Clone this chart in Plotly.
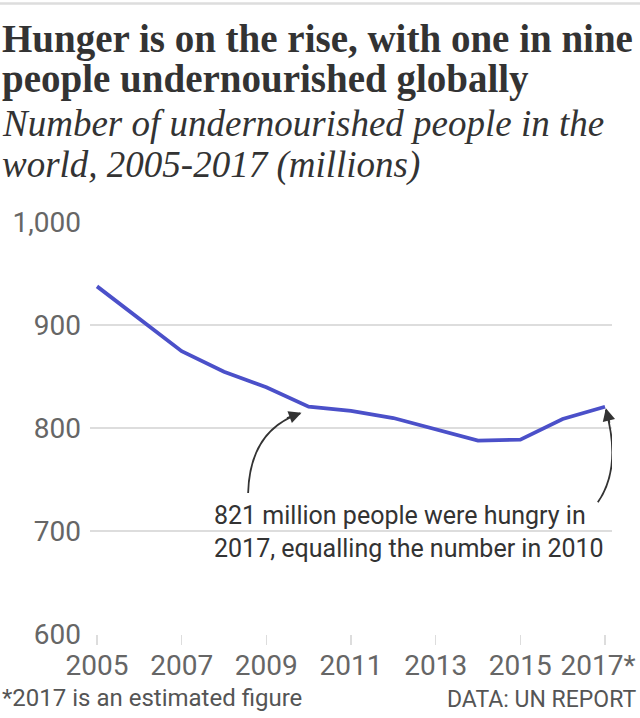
import plotly.graph_objects as go

# ---- data ----
years = [2005, 2006, 2007, 2008, 2009, 2010, 2011, 2012, 2013, 2014, 2015, 2016, 2017]
undernourished = [938, 907, 875, 855, 840, 821, 817, 810, 799, 788, 789, 809, 821]
x_tick_vals = [2005, 2007, 2009, 2011, 2013, 2015, 2017]
x_tick_text = ["2005", "2007", "2009", "2011", "2013", "2015", "2017*\u00a0\u00a0"]
y_tick_vals = [600, 700, 800, 900, 1000]
y_tick_text = ["600", "700", "800", "900", "1,000"]

W, H = 640, 718
L, R, T, B = 90, 28, 222, 84
PW, PH = W - L - R, H - T - B

def px_x(p):  # pixel x -> paper x
    return (p - L) / PW

def px_y(p):  # pixel y -> paper y
    return 1 - (p - T) / PH

SANS = "Roboto, 'Liberation Sans Narrow', sans-serif"
SERIF = "'Liberation Serif', 'DejaVu Serif', serif"

fig = go.Figure()
fig.add_trace(go.Scatter(
    x=years, y=undernourished, mode="lines",
    line=dict(color="#4b50c9", width=3.8),
    hoverinfo="skip", showlegend=False,
))

# curved annotation arrows (data coordinates, relative to the 2010 and 2017 points)
x10, y10 = years[5], undernourished[5]
x17, y17 = years[12], undernourished[12]
a1_start = (x10 - 1.43, y10 - 84)
a1_ctrl = (x10 - 1.39, y10 - 23)
a1_end = (x10 - 0.2, y10 - 6.5)
a2_start = (x17 - 0.17, y17 - 93)
a2_ctrl = (x17 + 0.4, y17 - 59)
a2_end = (x17 + 0.02, y17 - 3)

def qpath(s, c, e):
    return f"M {s[0]},{s[1]} Q {c[0]},{c[1]} {e[0]},{e[1]}"

for s, c, e in [(a1_start, a1_ctrl, a1_end), (a2_start, a2_ctrl, a2_end)]:
    fig.add_shape(type="path", xref="x", yref="y", path=qpath(s, c, e),
                  line=dict(color="#333333", width=1.8))

fig.add_annotation(x=a1_end[0] + 0.03, y=a1_end[1] + 0.6, xref="x", yref="y",
                   ax=-16, ay=6, showarrow=True, arrowhead=2, arrowsize=1.4,
                   arrowwidth=1.8, arrowcolor="#333333", text="", standoff=0)
fig.add_annotation(x=a2_end[0], y=a2_end[1] + 1.5, xref="x", yref="y",
                   ax=4, ay=16, showarrow=True, arrowhead=2, arrowsize=1.4,
                   arrowwidth=1.8, arrowcolor="#333333", text="", standoff=0)

# annotation text
fig.add_annotation(x=px_x(212), y=px_y(532), xref="paper", yref="paper",
                   xanchor="left", yanchor="middle", align="left", showarrow=False,
                   text="821 million people were hungry in<br>2017, equalling the number in 2010",
                   font=dict(family=SANS, size=25, color="#333333"))

# titles
fig.add_annotation(x=px_x(0), y=px_y(39), xref="paper", yref="paper",
                   xanchor="left", yanchor="middle", showarrow=False,
                   text="<b>Hunger is on the rise, with one in nine</b>",
                   font=dict(family=SERIF, size=39, color="#333333"))
fig.add_annotation(x=px_x(0), y=px_y(79), xref="paper", yref="paper",
                   xanchor="left", yanchor="middle", showarrow=False,
                   text="<b>people undernourished globally</b>",
                   font=dict(family=SERIF, size=39, color="#333333"))
fig.add_annotation(x=px_x(0), y=px_y(124), xref="paper", yref="paper",
                   xanchor="left", yanchor="middle", showarrow=False,
                   text="<i>Number of undernourished people in the</i>",
                   font=dict(family=SERIF, size=37, color="#333333"))
fig.add_annotation(x=px_x(0), y=px_y(165), xref="paper", yref="paper",
                   xanchor="left", yanchor="middle", showarrow=False,
                   text="<i>world, 2005-2017 (millions)</i>",
                   font=dict(family=SERIF, size=37, color="#333333"))

# footer
fig.add_annotation(x=px_x(0), y=px_y(698), xref="paper", yref="paper",
                   xanchor="left", yanchor="middle", showarrow=False,
                   text="*2017 is an estimated figure",
                   font=dict(family=SANS, size=24, color="#555555"))
fig.add_annotation(x=px_x(638), y=px_y(699), xref="paper", yref="paper",
                   xanchor="right", yanchor="middle", showarrow=False,
                   text="DATA: UN REPORT",
                   font=dict(family=SANS, size=23, color="#555555"))

# top rule
fig.add_shape(type="line", xref="paper", yref="paper", x0=px_x(0), x1=px_x(W),
              y0=px_y(3.5), y1=px_y(3.5), line=dict(color="#dddddd", width=2.5))

fig.update_layout(
    template="none",
    width=W, height=H, autosize=False,
    margin=dict(l=L, r=R, t=T, b=B, pad=0, autoexpand=False),
    paper_bgcolor="white", plot_bgcolor="white",
    hovermode=False, showlegend=False,
    xaxis=dict(
        automargin=False,
        range=[2004.835, 2017.165], tickmode="array",
        tickvals=x_tick_vals, ticktext=x_tick_text,
        showgrid=False, zeroline=False, showline=False,
        ticks="",
        minor=dict(ticks="outside", ticklen=10, tickwidth=1.5, tickcolor="#dddddd",
                   tick0=2005, dtick=2, showgrid=False),
        tickfont=dict(family=SANS, size=28, color="#666666"),
        ticklabelstandoff=12, ticklabeloverflow="allow",
    ),
    yaxis=dict(
        automargin=False,
        range=[600, 1000.6], tickmode="array",
        tickvals=y_tick_vals, ticktext=y_tick_text,
        showgrid=True, gridcolor="#dddddd", gridwidth=2,
        zeroline=False, showline=False, ticks="",
        tickfont=dict(family=SANS, size=28, color="#666666"),
        ticklabelstandoff=8,
    ),
)

fig.write_html(
    "out.html",
    config={"displayModeBar": False, "responsive": False, "staticPlot": True},
    post_script=("document.documentElement.style.overflow='hidden';"
                 "document.body.style.overflow='hidden';"
                 "document.body.style.margin='0';document.body.style.padding='0';"),
)
